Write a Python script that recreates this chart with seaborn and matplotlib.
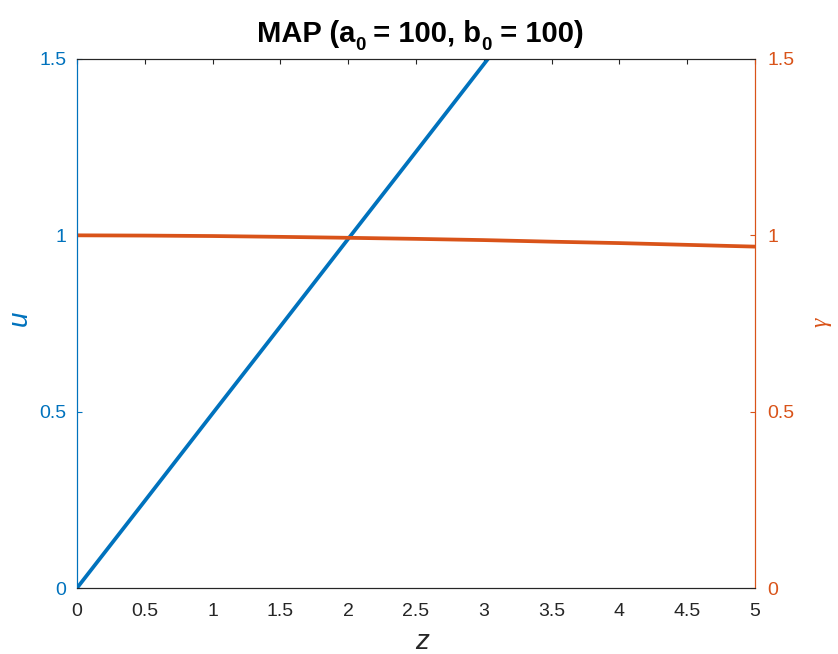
import numpy as np
import pandas as pd
import matplotlib
matplotlib.use("Agg")
import matplotlib.pyplot as plt
import seaborn as sns

# Solution profiles along z
z = [0.0, 0.5, 1.0, 1.5, 2.0, 2.5, 3.0, 3.5, 4.0, 4.5, 5.0]
u = [0.0, 0.247, 0.495, 0.742, 0.99, 1.237, 1.485, 1.732, 1.98, 2.227, 2.475]
gamma = [1.0, 0.9993, 0.998, 0.9957, 0.993, 0.990, 0.9865, 0.982, 0.978, 0.973, 0.968]

xticks = [0, 0.5, 1, 1.5, 2, 2.5, 3, 3.5, 4, 4.5, 5]
xticklabels = ["0", "0.5", "1", "1.5", "2", "2.5", "3", "3.5", "4", "4.5", "5"]
yticks = [0, 0.5, 1, 1.5]
yticklabels = ["0", "0.5", "1", "1.5"]

BLUE = "#0072BD"
ORANGE = "#D95319"
DARK = "#262626"

sns.set_style("white")
plt.rcParams["font.family"] = ["Liberation Sans", "DejaVu Sans"]

df = pd.DataFrame({"z": z, "u": u, "gamma": gamma})

fig = plt.figure(figsize=(8.38, 6.54), dpi=100)
ax = fig.add_axes([0.0919, 0.1009, 0.809, 0.8089])
ax2 = ax.twinx()

sns.lineplot(data=df, x="z", y="u", ax=ax, color=BLUE, linewidth=2.7)
sns.lineplot(data=df, x="z", y="gamma", ax=ax2, color=ORANGE, linewidth=2.7)

for a in (ax, ax2):
    a.set_xlim(0, 5)
    a.set_ylim(0, 1.5)
    a.set_yticks(yticks)
    a.set_yticklabels(yticklabels)

ax.set_xticks(xticks)
ax.set_xticklabels(xticklabels)

fs = 14
ax.tick_params(axis="x", direction="in", length=3.8, width=0.8, colors=DARK,
               labelsize=fs, top=True, pad=10.5)
ax.tick_params(axis="y", direction="in", length=3.8, width=0.8, colors=BLUE,
               labelsize=fs, pad=7.5)
ax2.tick_params(axis="y", direction="in", length=3.8, width=0.8, colors=ORANGE,
                labelsize=fs, pad=9)

for a in (ax, ax2):
    a.spines["top"].set_color(DARK)
    a.spines["bottom"].set_color(DARK)
    a.spines["left"].set_color(BLUE)
    a.spines["right"].set_color(ORANGE)
    for s in a.spines.values():
        s.set_linewidth(0.8)

# Axis labels
ax.set_xlabel("z", fontsize=20, color=DARK, fontstyle="italic")
ax.xaxis.label.set_va("center")
ax.xaxis.set_label_coords(0.509, -0.102)

ax.set_ylabel("u", fontsize=20, color=BLUE, fontstyle="italic")
ax.yaxis.label.set_va("center")
ax.yaxis.label.set_ha("center")
ax.yaxis.set_label_coords(-0.084, 0.51)

ax2.set_ylabel("γ", fontsize=17, color=ORANGE, fontstyle="italic",
               family=["Liberation Serif", "DejaVu Serif"], rotation=90)
ax2.yaxis.label.set_va("center")
ax2.yaxis.label.set_ha("center")
ax2.yaxis.set_label_coords(1.097, 0.503)

# Title with lowered subscripts, laid out piece by piece
pieces = [("MAP (a", False), ("0", True), (" = 100, b", False), ("0", True), (" = 100)", False)]
renderer = fig.canvas.get_renderer()
W, H = fig.bbox.width, fig.bbox.height
base_y = 1 - 42.0 / H
sub_drop = 8.0 / H
texts = []
total = 0.0
for s, is_sub in pieces:
    t = fig.text(0, base_y - (sub_drop if is_sub else 0), s,
                 fontsize=13.5 if is_sub else 21, fontweight="bold",
                 color="black", ha="left", va="baseline")
    w = t.get_window_extent(renderer).width
    texts.append((t, w))
    total += w
x = 420.0 - total / 2
for t, w in texts:
    t.set_x(x / W)
    x += w

fig.savefig("out.png", dpi=100)
